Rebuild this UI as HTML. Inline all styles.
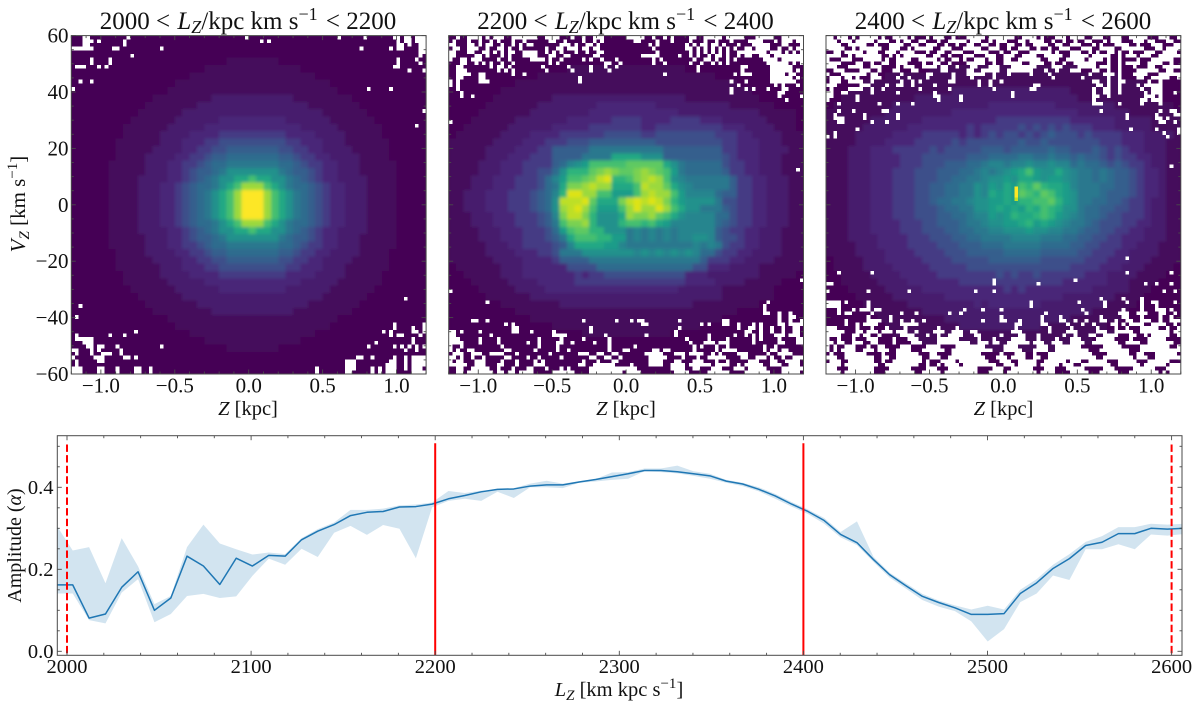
<!DOCTYPE html>
<html lang="en">
<head>
<meta charset="utf-8">
<title>Phase spiral panels and amplitude</title>
<style>
html,body{margin:0;padding:0;background:#fff;width:1200px;height:710px;overflow:hidden}
svg{display:block}
text{font-family:"Liberation Serif",serif;fill:#111}
</style>
</head>
<body>
<svg id="figure" xmlns="http://www.w3.org/2000/svg" width="1200" height="710" viewBox="0 0 1200 710">
  <rect width="1200" height="710" fill="#fff"/>
  <text x="248" y="29" text-anchor="middle" font-size="25">2000 &lt; <tspan font-style="italic" dx="1">L</tspan><tspan font-style="italic" dy="4" font-size="18">Z</tspan><tspan dy="-4">/kpc km s</tspan><tspan dy="-9" font-size="18">−1</tspan><tspan dy="9" dx="2"> &lt; 2200</tspan></text>
  <text x="625.5" y="29" text-anchor="middle" font-size="25">2200 &lt; <tspan font-style="italic" dx="1">L</tspan><tspan font-style="italic" dy="4" font-size="18">Z</tspan><tspan dy="-4">/kpc km s</tspan><tspan dy="-9" font-size="18">−1</tspan><tspan dy="9" dx="2"> &lt; 2400</tspan></text>
  <text x="1003" y="29" text-anchor="middle" font-size="25">2400 &lt; <tspan font-style="italic" dx="1">L</tspan><tspan font-style="italic" dy="4" font-size="18">Z</tspan><tspan dy="-4">/kpc km s</tspan><tspan dy="-9" font-size="18">−1</tspan><tspan dy="9" dx="2"> &lt; 2600</tspan></text>
  <text transform="translate(25,204) rotate(-90)" text-anchor="middle" font-size="21"><tspan font-style="italic">V</tspan><tspan font-style="italic" dy="4" font-size="15">Z</tspan><tspan dy="-4"> [km s</tspan><tspan dy="-8" font-size="15">−1</tspan><tspan dy="8">]</tspan></text>
  <text x="248" y="415" text-anchor="middle" font-size="20.5"><tspan font-style="italic">Z</tspan> [kpc]</text>
  <text x="626" y="415" text-anchor="middle" font-size="20.5"><tspan font-style="italic">Z</tspan> [kpc]</text>
  <text x="1003.5" y="415" text-anchor="middle" font-size="20.5"><tspan font-style="italic">Z</tspan> [kpc]</text>
  <text transform="translate(21,545.5) rotate(-90)" text-anchor="middle" font-size="20">Amplitude (<tspan font-style="italic">α</tspan>)</text>
  <text x="619" y="696" text-anchor="middle" font-size="20.5"><tspan font-style="italic">L</tspan><tspan font-style="italic" dy="4" font-size="15">Z</tspan><tspan dy="-4"> [km kpc s</tspan><tspan dy="-8" font-size="15">−1</tspan><tspan dy="8">]</tspan></text>
  <defs>
    <clipPath id="amp-clip"><rect x="57.3" y="435.7" width="1124.7" height="219.6"/></clipPath>
    <filter id="soften" x="-5%" y="-5%" width="110%" height="110%"><feGaussianBlur stdDeviation="1.6"/></filter>
  </defs>
</svg>
<script>
// ---- Amplitude chart data ----
const lzValues = [1994.2,2003.1,2012,2020.9,2029.7,2038.6,2047.5,2056.4,2065.2,2074.1,2083,2091.9,2100.7,2109.6,2118.5,2127.4,2136.2,2145.1,2154,2162.9,2171.7,2180.6,2189.5,
2198.3,2207.2,2216.1,2225,2233.8,2242.7,2251.6,2260.5,2269.3,2278.2,2287.1,2296,2304.8,2313.7,2322.6,2331.5,2340.3,2349.2,2358.1,2367,2375.8,2384.7,2393.6,2402.5,
2411.3,2420.2,2429.1,2438,2446.8,2455.7,2464.6,2473.5,2482.3,2491.2,2500.1,2509,2517.8,2526.7,2535.6,2544.5,2553.3,2562.2,2571.1,2580,2588.8,2597.7,2606.6];
const amplitudeValues = [.162,.162,.081,.091,.156,.194,.100,.130,.232,.208,.163,.227,.208,.234,.232,.272,.293,.309,.331,.339,.341,.352,.353,
.359,.372,.380,.389,.395,.396,.403,.406,.406,.413,.419,.426,.433,.441,.441,.438,.433,.428,.415,.408,.395,.379,.359,.341,
.319,.285,.265,.224,.187,.160,.134,.119,.106,.090,.090,.092,.141,.167,.202,.226,.258,.266,.287,.287,.300,.298,.300];
const amplitudeUpper = [.308,.246,.254,.166,.276,.207,.115,.135,.254,.309,.263,.249,.236,.241,.237,.276,.298,.314,.345,.345,.348,.356,.358,
.363,.391,.386,.392,.394,.398,.409,.416,.409,.415,.420,.436,.437,.446,.446,.453,.439,.433,.418,.411,.400,.384,.364,.346,
.325,.291,.317,.231,.192,.166,.140,.124,.112,.102,.111,.102,.150,.176,.211,.237,.267,.281,.303,.303,.311,.309,.311];
const amplitudeLower = [.141,.141,.076,.068,.143,.176,.071,.091,.135,.140,.130,.134,.184,.226,.211,.250,.230,.289,.306,.284,.308,.299,.227,
.351,.367,.372,.367,.389,.374,.400,.400,.398,.411,.414,.418,.421,.439,.437,.434,.428,.421,.411,.403,.390,.372,.353,.335,
.311,.278,.259,.218,.180,.153,.125,.109,.098,.073,.024,.054,.120,.141,.185,.174,.249,.249,.261,.249,.285,.282,.286];
const lzTickValues = [2000,2100,2200,2300,2400,2500,2600];
const lzTickLabels = ["2000","2100","2200","2300","2400","2500","2600"];
const ampTickValues = [0,0.2,0.4];
const ampTickLabels = ["0.0","0.2","0.4"];
const solidBoundaries = [2200,2400];
const dashedBoundaries = [2000,2600];

// ---- Heatmap tick data ----
const zTickValues = [-1,-0.5,0,0.5,1];
const zTickLabels = ["−1.0","−0.5","0.0","0.5","1.0"];
const vzTickValues = [60,40,20,0,-20,-40,-60];
const vzTickLabels = ["60","40","20","0","−20","−40","−60"];

// ---- Heatmap density: one row of base-21 levels per string, 48 columns, top to bottom ----
const panel1Density = ["0","0","0",
"000000000000000000000 1111 111",
"000000000000000000 1111111 111111",
"0000000000000000 111111111 11111111",
"00000000000000 11111111111 1111111111",
"0000000000000 111111111111 11111111111",
"00000000000 11111111 222222 22222 11111111",
"0000000000 1111111 22222222 2222222 1111111",
"000000000 111111 2222222222 222222222 111111",
"00000000 111111 222222 33333 3333 222222 111111",
"0000000 111111222223333333 33333322222111111",
"0000000 111112222333344444 44443333222211111",
"000000 1111112223334455555 555544333222111111",
"000000 1111122223344556666 666554433222211111",
"000000 1111222233445667777 777665443322221111",
"00000 11111222334456778888 8887765443322211111",
"00000 1111122233456678aaaa aaa8766543322211111",
"00000 111122223345678aacce ccaa876543322221111",
"00000 111122233456778acehh heca877654332221111",
"00000 11112223345678acehkk kheca87654332221111",
"00000 11112223345678acehkk kheca87654332221111",
"00000 11112223345678acehkk kheca87654332221111",
"00000 11112223345678acehkk kheca87654332221111",
"00000 111122233456778acehh heca877654332221111",
"00000 111122223345678aacce ccaa876543322221111",
"00000 1111122233456678aaaa aaa8766543322211111",
"00000 11111222334456778888 8887765443322211111",
"000000 1111222233445667777 777665443322221111",
"000000 1111122223344556666 666554433222211111",
"000000 1111112223334455555 555544333222111111",
"0000000 111112222333344444 44443333222211111",
"0000000 111111222223333333 33333322222111111",
"00000000 111111 222222 33333 3333 222222 111111",
"000000000 111111 2222222222 222222222 111111",
"0000000000 1111111 22222222 2222222 1111111",
"00000000000 11111111 222222 22222 11111111",
"0000000000000 111111111111 11111111111",
"00000000000000 11111111111 1111111111",
"0000000000000000 111111111 11111111",
"000000000000000000 1111111 111111",
"000000000000000000000 1111 111",
"0","0","0"];

const panel2Density = ["0","0","0","0",
"0000000000000000 1111111111111111",
"000000000000 111111111111111111111111",
"000000000 111111111111111111111111111111",
"0000000 1111111111111111111111111111111111",
"000000 11111111 222222222222222222 1111111111",
"00000 1111111 22222222 33333333 2222222222 111111",
"0000 1111111 22222222 333333333333 22222222222 11111",
"000 111111 2222222 333333 4444 3333 4444 333 222222 1111",
"00 111111 222222 33333 4444444 33 444444444 333 2222 111",
"0 111111 2222 3333 444444 55555 44 55555555 444 33 2222 111",
"111111 2222 333 444 555 666666666 555555555 44 333 222 111",
"11111 2222 333 44 66666 8888888888 66666666 44 333 2222 11",
"11111 222 333 444 6666 8888 cccc aaa 66666666 5 4 333 222 111",
"1111 222 333 4444 679 ab eeeee fffff ca8 77777 5 44 33 222 111",
"1111 222 333 44 55 7a ddd fghgffghgfe b8 77777 6 44 33 222 111",
"111 222 333 444 5 7 9 b eefg ij dde ghih e a 9 888888 6 44 33 222 11",
"111 222 333 444 5 7 8 c ggh i hh ccc e i hh f c a 9 88888 6 44 33 222 11",
"11 222 333 444 5 6 7 9 d jj hh ee bbb e hih h e b 9999 7 66 44 33 222 11",
"11 222 333 444 5 6 7 a i iij f ccc g ijij i g d b aaaa 8 55 44 33 222 11",
"11 222 333 444 5 6 7 a h ij h e bbb e hj hh j h e c aa 888 6 5 44 33 222 11",
"111 222 333 444 5 6 9 g ii g d aaa c hggh f e c a 9999 77 5 44 33 222 11",
"111 222 333 444 5 6 8 e gg h d aaa deede c b 99 9999 7 6 5 44 33 222 11",
"1111 222 333 44 4 5 7 b eff dd aaa 8989898 9 9999 6 5 44 33 222 111",
"1111 222 333 444 5 6 8 c eee dd bb 8989898 99aa9 6 55 4 33 222 111",
"11111 222 33 444 4 5 6 9 cccc bb 9 88888888 89898 5 44 33 222 111",
"11111 2222 333 44 5 888 aaa aaaa 9a9a9a9a9 77 5 44 33 2222 111",
"111111 2222 333 3 4 6666 88888 8888888888 6 444 33 222 2 1111",
"0 111111 222 333 333 5555 77777 77777777 55 3 33 222 2 111111",
"00 11111 222 3333 33 34344 55555555555 333 222 2222 11111",
"000 11111 2222 33333 444444444444444 3333 2222 11111",
"0000 11111 2222 333333333333333333 222222 1111111",
"00000 111111 22222222222222222222222222 1111111",
"0000000 11111111 222222222222222222 111111111",
"000000000 111111111111111111111111111111",
"00000000000 11111111111111111111111111",
"00000000000000 11111111111111111111",
"000000000000000000 111111111111",
"0","0","0","0","0"];

const panel3Density = ["0","0","0","0",
"00000000000000 11111111111111111111",
"00000000 11111111111111111111111111111111",
"00000 11111111111111111111111111111111111111",
"000 11111111111111 2222222222222222 111111111111",
"00 1111111111 2222222222222222222222 11111111111",
"0 11111111 2222222222222 333333333 22222222 11111111",
"11111111 222222222 33333333333333333 2222222 1111111",
"111111 2222222 3333333333 4444444444 333333 22222 1111",
"11111 222222 3333333 3434 4444 5454 5454 44 333 22222 1111",
"1111 22222 3333 4444 4343 4545 5454 5655 5454 444 333 2222 1",
"1111 2222 3333 4444 4545 5555 5565 5655 5555 544 433 3 222 11",
"111 222 333 4444 4545 5555 6665 6666 6766 5556 545 433 222 11",
"111 222 3333 444 5555 5566 6777 7887 7877 6766 545 443 322 11",
"111 222 3333 444 5556 6677 8998 99a9 9a99 7877 656 544 322 11",
"111 222 333 444 555 6667 7898 9abc ebaa ca98 878 766 54 332 11",
"111 222 333 444 555 6677 889a abac cbab ba98 878 766 54 332 11",
"111 222 333 444 556 6778 8a9b acbe dfdc cb98 887 766 54 332 11",
"111 222 333 444 556 6778 8a9c bcbf edfe cba8 887 666 54 332 11",
"111 222 333 444 556 7788 9aab bcbd deef dba8 877 665 44 322 11",
"111 222 333 444 555 6778 8aab cbcb dced caa8 776 655 44 322 11",
"111 222 333 444 555 6677 899b abdc cded ba98 776 554 44 322 11",
"111 222 333 344 455 6667 889a abbc dbcb a988 765 554 43 322 11",
"111 222 333 344 455 5667 7889 9aaa baa9 9887 665 544 33 222 11",
"111 222 233 334 445 5566 7788 8899 9988 8776 655 443 33 222 11",
"111 122 233 334 444 5556 6677 7888 8877 7766 554 443 32 221 11",
"111 122 223 333 444 4555 6666 6777 7766 6665 544 433 22 221 11",
"011 112 223 333 344 4455 5556 6666 6655 5555 444 333 22 211 11",
"011 112 222 333 334 4444 5555 5555 5555 5544 443 332 22 111 10",
"001 111 222 233 333 4444 4444 5454 4544 4444 333 222 21 111 00",
"001 111 122 223 333 3334 4444 4444 4444 4333 333 222 11 110 00",
"000 111 112 222 233 3333 3333 3434 3333 3333 322 222 11 100 00",
"000 011 111 222 222 2333 3333 3333 3333 3222 222 211 11 000 00",
"000 001 111 112 222 2222 2323 3333 3322 2222 222 111 10 000 00",
"000 000 111 111 122 2222 2222 2222 2222 2222 211 111 00 000 00",
"000 000 011 111 111 1222 2222 2222 2222 2211 111 110 00 000 00",
"000 000 001 111 111 1112 2222 2222 2211 1111 111 000 00 000 00",
"000000000 111111111111111111111111111111",
"000000000000 111111111111111111111111",
"000000000000000000 11111111111111",
"0","0","0"];

// ---- Single hot bins at native (96×92) resolution: [row, col, level] ----
const panel3HotBins = [[41,51,20],[42,51,20],[43,51,20],[44,51,18]];

// ---- Empty bins at native (96×92) resolution: [row, "columns"] ----
const panel1EmptyBins = [[0,"3-4 15 47 72 79 87-88 90-91 93-95"],[1,"3-4 5 7 14 51 53 88 90-91 93-95"],[2,"3-4 14 88-89 91 94-95"],[3,"0-2 3-5 11-12 24 78 86 88-89 94-95"],[4,"94-95"],[5,"16 94"],[6,"5 10 88 93"],[7,"5 10 88 94"],[8,"1-2 3 7 9 87-88"],[9,"91 95"],[12,"2 5"],[14,"0 80 86"],[20,"95"],[24,"93"],
[71,"90"],[73,"2"],[76,"1"],[78,"87 95"],[79,"87 92 95"],[80,"17 84 86 92-93 95"],[81,"1 10 14 86 88-89 94"],[82,"1-5 92"],[83,"3-5 82 92"],[84,"4-5 7-8 12 24 80 87 89 91 93 95"],[85,"0-1 5 7 13 90 93"],[86,"1 5 8-10 13"],[87,"0 6-7 8 14-15 17 77-78 81 87 90 92-95"],[88,"1 7 8 74-75 76 86-87 90 92-95"],[89,"1 74-75 76 85-87 90 92-95"],[90,"0-2 7-8 12 17-18 21 66 74-75 76 81 83 85-87 90 92-94"],[91,"0-2 7-8 12 17-18 21 66 74-75 81 83 85-87 92-95"]];

const panel2EmptyBins = [[0,"2 5-8 10 12-14 17-23 26-29 33 36 39-41 48-52 55 58 60 65-66 69-73 75-79 83-87 90-95"],
[1,"1 5 8 11 13 17 20 27-28 31 36 39 41 50-51 56 60 65 69 72 76 81-83 84 88 90-92 94-95"],
[2,"0-1 5-6 8 10-11 14 17 19 21-22 30-32 34 37-38 40 54 56 64 66 68-69 71-72 74 78 82-83 84-86 90-91 95"],
[3,"1-2 5-7 10 13-14 16 19 26 29-30 32-34 36-37 39-40 55 64-65 67 69 71 73 75 77 80-81 83-86 89 92 94-95"],
[4,"0-1 5-6 9-10 12 14 16-17 20-23 26 28 30 34 37 40-41 56 65 67 69 71 73 75 78-80 81-85 87-89 91 93 95"],
[5,"0-1 7-8 10 14 16 20-23 27-28 31-32 39-40 52-56 62 65 67 70 72-73 75 78 80-81 84-86 88-91 92-95"],
[6,"0 3-4 6-8 13 16 22-25 27 30 36 38 41 45 55 57 66 69-70 72 75 77 85-88 90-95"],
[7,"3-4 7 9 11 14 17 27 29 42-43 46 55 58 65 68 71 73 75 86-91 93 95"],
[8,"2-3 11 13-14 16 25 32 38 42 45 67 79-80 87-92"],[9,"2-4 13 15 17 26 33 38 43 67 79 87-92 94"],[10,"2-5 8-9 17 20 58 77 79-81 87-90 92-93"],[11,"2-3 8-9 35 87-92 94"],[12,"0 2 8-10 35 76 80 87-93"],[13,"0 2 78 88 90 94"],[14,"2 76 80 82 86 90-91"],[15,"3 76 89-90"],[16,"3 6 89 95"],[17,"91"],[23,"0"],[36,"94"],[66,"95"],[69,"0"],
[72,"10 86"],[73,"85"],[74,"85"],[75,"85-86 89 92"],[76,"89 92-93"],[77,"6-7 10 36 45 49 51-52 62 74-75 89 92 95"],[78,"15 17 52-53 68 70 74-75 78 82 84 89-90 92-95"],[79,"17-18 38 62 78 81-82 84 87 90 93-94"],[80,"0-1 3 8 17-18 22 28 38 61 80-81 84 87 90 93-94"],[81,"0-1 11 28-30 31 42 53 61 70 77 80 82 84 88-90 92-94"],[82,"0-2 8 13 24 30 36 43 64 70 75 82 84 89 94-95"],[83,"0-3 8 13 21 24 29-30 33 39 43 65 69-71 73-75 82 89-90 94-95"],[84,"0 3 14 24 29 43 50 66 68 72 75 85 88"],[85,"0 2 5-6 15-16 23 29 32 43 47-48 55-56 58-59 66 72 74-77 85 87-88 90-91"],[86,"1-3 6-8 11-14 18 27 35-37 40-41 44-45 53-57 61-63 65-68 71 73 78-80 86 89-92"],[87,"0-1 3 6 9 15-16 21 24 30 38-39 42-43 46 54-58 63 67 70-74 79-80 83-85 87 90 93-95"],[88,"0 2-3 7-9 14 18 23 25 36 40 44-45 54-57 61-62 66-68 72 75 81-83 87-88 91-94"],[89,"0-4 7-9 13-14 18 23-25 35-36 39-44 49 54-57 60-63 65-70 72-75 78 80-84 87-89 92-94"],[90,"2-3 6-10 13 17 21-22 26 30 32 38-47 48-50 60-63 66-67 71-73 77-79 81-85 90-95"],[91,"2-3 5-11 13-14 16-17 19-22 28-33 38-46 48-51 61-64 70-75 80-86 90-94"]];

const panel3EmptyBins = [[0,"0-1 3-5 7 9-13 15 18-21 23 27 29-31 34 38-42 44-50 53-56 58 62-64 66-69 72-74 77-79 82-86 90-92 95"],
[1,"0-2 4-6 8-12 14-16 19 21-22 25-26 30 33-37 39-41 44 46-48 52-53 55-58 61 64 67 70-71 75 77-79 83-85 87-88 92-93"],
[2,"0-3 6-10 13 17-20 23-24 27-29 32 35 38-39 42-43 46 49-50 53 56-59 62-63 66-68 72 74 78-81 84 88-90 94-95"],
[3,"0-4 7 9-14 17-19 22 24-28 31-33 37-41 44-46 49 52-54 57 60 63-65 69-71 74-77 80-85 89-90 92-95"],
[4,"2-3 5-9 11-13 16-18 20-23 27 30-31 34-36 40-43 47 50-51 55-60 62 66-68 71 73 76-77 79 82 86-88 91-94"],
[5,"0-3 6 8-14 17 19 21-26 29-30 33 37-39 43-45 48-50 53-56 59-63 66-70 72-76 79 81-83 85-87 90-95"],
[6,"0 4-6 10-14 16 19-22 25-29 31 34-35 37 40-42 44-45 48-49 52-57 60-62 65-69 71-74 76 79 84 88-93"],
[7,"0-3 8-9 12 15-16 19-21 26 29-30 33 38-42 45 48-52 55-58 61 64 67-72 76 79 81-84 87-90 93"],
[8,"0-2 6-9 12-14 19 21-23 26-29 31-32 35 39-40 44-46 50-56 61-63 68-72 74-76 79 83 87-88 91-95"],
[9,"2-4 9-11 14 18-19 23-24 31-32 38-39 42-46 49-55 59 62 66-68 72-73 76 79 84-89 92-93"],
[10,"0 4-10 12-13 20 27-28 34 38-42 45 49 55 60 71 75-77 79 83-86 90-95"],
[11,"1-3 5-6 8 12-14 19 22 27 34 39 45 61 69 76 79 84-85 88-92 95"],
[12,"1-3 6-9 12 20 23 25 33-34 41 44 47 72-73 76 79-80 87 90"],
[13,"0-2 9-11 16 19-20 23 29 41 44 56-57 73-74 76 79 84 86-90"],
[14,"1 6-9 12 15 25 33 45 55-56 72 75-76 79 85 88-90"],[15,"0-1 4-5 12 19 29 50 72 75-76 79 86 88-90 94"],[16,"0-1 8 29-30 36 50 72-73 76 86-88 90"],[17,"0 8 30 36 72 85-86 88-90"],[18,"3 14 19 23 72-74 79 85 90"],[20,"3 7 15-16 74 90 93-94"],[21,"2 10 19 81 89 94-95"],[22,"2-4 10 19 81 89-90 92"],[23,"3-4 12 16 90-91 94"],[25,"8 82 89 95"],[26,"2 91 95"],[27,"0 2 92"],[35,"93"],[60,"81"],
[64,"3 12 81 93"],[66,"45 67"],[67,"0-1 45 57 86 89 93"],[69,"0 11 22 40 45 91 94"],[71,"74 80 85"],[72,"0-3 5 11 55 68 75 81 85 88-89 94"],[73,"0-3 11 55 75 85 89"],[74,"3 7 9-11 13-14 37 42 47 69 80 85 89-91 93"],[75,"3 5-6 12 20 24 33 36 59 70 79-81 84-86 90-91 94"],[76,"11 17 47 58 63 74 80-81 85 90 93"],[77,"5 11-14 17 20 23 26 42 47-48 52 58 63-64 67 70 74-75 78 81-82 85-87 90 93-95"],[78,"5 8 10-13 20-24 51-52 58-59 65 69 72 77-78 80 82-85 88-91 94"],[79,"0-2 8 12 16 21 30 35 51 60 66 73 78 81 85-89 92 95"],[80,"0-4 8-9 11-13 15-17 19-21 24 29-31 34-36 39-40 50-52 60 65-67 73-75 78-82 85-92 94-95"],[81,"0-3 7-8 10-11 14 20-23 27 30 33-36 40-41 47 52-53 57 64 67 71-72 75-78 82-83 86 88-92 95"],[82,"0 3 7 11-13 18 22-24 30-35 41 45 50-53 57 62 66-68 73-77 82 87-91"],[83,"0-1 3-4 7-9 12-13 18 23-25 30-38 41-43 45-46 49-54 56-58 61-63 66-69 72-78 81-84 87-93"],[84,"0 2 5-7 11 14-15 20-22 27-30 35-42 48-51 57-59 62-68 75-79 85-92 95"],[85,"0 2 4-7 10-12 14-16 19-22 26-31 34-44 48-52 56-59 62-70 74-81 85-95"],[86,"1 5-10 15 19-24 28-29 34-41 47 51-53 56 60-71 76-81 84-85 89-94"],[87,"0-2 5-12 15-16 19-25 28-30 33-42 46-48 50-53 56-57 60-72 75-82 84-86 89-95"],[88,"1-3 6-12 15 18-25 27 31-34 36-43 47-49 52-56 59-64 66-68 71-75 79-83 87-92"],[89,"0-3 5-13 16-24 27 30 32-35 37-45 48-50 52-56 58-62 64-66 69-76 79-84 86-91 93-95"],[90,"0-2 6-12 17-22 27-29 33-40 45-47 50-55 59-61 65-69 75-77 83-88 92-95"],[91,"0-3 5-12 16-23 26-30 32-40 44-47 49-56 58-61 66-70 74-78 82-89 91 93-95"]];

// ---- Rendering ----
const SVG_NS = "http://www.w3.org/2000/svg";
const svg = document.getElementById("figure");
const viridis = ["#440154","#45085b","#471a6d","#482878","#443b84","#3d4f8a","#355f8d","#2f6c8e","#2a788e","#25858e","#21918c","#1e9c89","#22a884","#2fb47c","#44bf70","#5ec962","#7ad151","#9bd93c","#bddf26","#dde318","#fde725"];
const FRAME = "#4a4a4a";

function make(tag, attrs, parent){
  const el = document.createElementNS(SVG_NS, tag);
  for (const k in attrs) el.setAttribute(k, attrs[k]);
  (parent || svg).appendChild(el);
  return el;
}
function tick(parent, x1, y1, x2, y2){
  const t = make("line", {x1:x1, y1:y1, x2:x2, y2:y2, stroke:FRAME, "stroke-width":0.9}, parent);
  
  
}
function label(parent, txt, x, y, anchor, size){
  const t = make("text", {x:x, y:y, "text-anchor":anchor, "font-size":size}, parent);
  
  
  t.textContent = txt;
}

const panels = [
  {name:"panel-1", left:71.3,  density:panel1Density, empty:panel1EmptyBins, hot:[], yLabels:true},
  {name:"panel-2", left:448.7, density:panel2Density, empty:panel2EmptyBins, hot:[], yLabels:false},
  {name:"panel-3", left:826.0, density:panel3Density, empty:panel3EmptyBins, hot:panel3HotBins, yLabels:false}
];
const PW = 354.8, PT = 35.6, PH = 338.4, COARSE_C = 48, COARSE_R = 46, FINE_C = 96, FINE_R = 92;

function parseCols(spec){
  const cols = [];
  spec.trim().split(/\s+/).forEach(function(p){
    const parts = p.split("-").map(Number);
    const end = parts.length > 1 ? parts[1] : parts[0];
    for (let c = parts[0]; c <= end; c++) cols.push(c);
  });
  return cols;
}

panels.forEach(function(p, pi){
  const defs = svg.querySelector("defs");
  const cp = make("clipPath", {id:"clip-" + pi}, defs);
  make("rect", {x:p.left, y:PT, width:PW, height:PH}, cp);
  const outer = make("g", {"clip-path":"url(#clip-" + pi + ")"});
  
  
  const base = make("rect", {x:p.left, y:PT, width:PW, height:PH, fill:viridis[0]}, outer);
  
  
  const g = make("g", {filter:"url(#soften)", "shape-rendering":"crispEdges"}, outer);
  
  
  const top = make("g", {"shape-rendering":"crispEdges"}, outer);
  
  
  const zX = function(z){ return p.left + PW/2 + z * (PW/2.4); };
  const vY = function(v){ return PT + PH/2 - v * (PH/120); };
  const coarseW = PW / COARSE_C, coarseH = PH / COARSE_R, fineW = PW / FINE_C, fineH = PH / FINE_R;
  p.density.forEach(function(rowText, r){
    const row = rowText.replace(/\s/g, "").padEnd(COARSE_C, "0");
    for (let c = 0; c < COARSE_C; c++){
      const level = parseInt(row[c], 21);
      const cell = make("rect", {x:(p.left + c*coarseW).toFixed(2), y:(PT + r*coarseH).toFixed(2), width:(coarseW+0.4).toFixed(2), height:(coarseH+0.4).toFixed(2), fill:viridis[level]}, g);
      
      
    }
  });
  p.hot.forEach(function(b){
    const cell = make("rect", {x:(p.left + b[1]*fineW).toFixed(2), y:(PT + b[0]*fineH).toFixed(2), width:fineW.toFixed(2), height:fineH.toFixed(2), fill:viridis[b[2]]}, top);
    
    
  });
  p.empty.forEach(function(entry){
    parseCols(entry[1]).forEach(function(c){
      const cell = make("rect", {x:(p.left + c*fineW).toFixed(2), y:(PT + entry[0]*fineH).toFixed(2), width:fineW.toFixed(2), height:fineH.toFixed(2), fill:"#fff"}, top);
      
      
    });
  });
  const ax = make("g", {});
  
  
  const frame = make("rect", {x:p.left, y:PT, width:PW, height:PH, fill:"none", stroke:FRAME, "stroke-width":1}, ax);
  
  
  for (let i = -12; i <= 12; i++){
    const x = zX(i/10), len = (i % 5 === 0) ? 4.5 : 2.5;
    tick(ax, x, PT+PH, x, PT+PH-len);
    tick(ax, x, PT, x, PT+len);
  }
  for (let i = -12; i <= 12; i++){
    const y = vY(i*5), len = (i % 4 === 0) ? 4.5 : 2.5;
    tick(ax, p.left, y, p.left+len, y);
    tick(ax, p.left+PW, y, p.left+PW-len, y);
  }
  zTickValues.forEach(function(z, i){ label(ax, zTickLabels[i], zX(z), 392.5, "middle", 21); });
  if (p.yLabels) vzTickValues.forEach(function(v, i){ label(ax, vzTickLabels[i], 68.5, vY(v)+7, "end", 21); });
});

// Amplitude chart
const AL = 57.3, AR = 1182, AT = 435.7, AB = 655.3;
function xLz(L){ return 67 + (L - 2000) * 1.841; }
function yAmp(v){ return 651.3 - v * 410; }
const plot = make("g", {"clip-path":"url(#amp-clip)"});


let bandPts = [];
lzValues.forEach(function(L, i){ bandPts.push(xLz(L).toFixed(2) + "," + yAmp(amplitudeUpper[i]).toFixed(2)); });
for (let i = lzValues.length - 1; i >= 0; i--) bandPts.push(xLz(lzValues[i]).toFixed(2) + "," + yAmp(amplitudeLower[i]).toFixed(2));
const band = make("polygon", {points:bandPts.join(" "), fill:"#1f77b4", "fill-opacity":0.2}, plot);


const linePts = lzValues.map(function(L, i){ return xLz(L).toFixed(2) + "," + yAmp(amplitudeValues[i]).toFixed(2); }).join(" ");
const ampLine = make("polyline", {points:linePts, fill:"none", stroke:"#1f77b4", "stroke-width":1.5, "stroke-linejoin":"round"}, plot);


solidBoundaries.forEach(function(L){
  const l = make("line", {x1:xLz(L), x2:xLz(L), y1:443.3, y2:AB, stroke:"#ff0000", "stroke-width":2}, plot);
  
  
});
dashedBoundaries.forEach(function(L){
  const l = make("line", {x1:xLz(L), x2:xLz(L), y1:444.5, y2:AB, stroke:"#ff0000", "stroke-width":2, "stroke-dasharray":"7.4 3.2"}, plot);
  
  
});
const ampAxes = make("g", {});


const ampFrame = make("rect", {x:AL, y:AT, width:AR-AL, height:AB-AT, fill:"none", stroke:FRAME, "stroke-width":1}, ampAxes);


for (let L = 2000; L <= 2600; L += 20){
  const x = xLz(L), len = (L % 100 === 0) ? 4.5 : 2.5;
  tick(ampAxes, x, AB, x, AB-len);
  tick(ampAxes, x, AT, x, AT+len);
}
for (let k = 0; k <= 10; k++){
  const y = yAmp(k*0.05), len = (k % 4 === 0) ? 4.5 : 2.5;
  tick(ampAxes, AL, y, AL+len, y);
  tick(ampAxes, AR, y, AR-len, y);
}
lzTickValues.forEach(function(L, i){ label(ampAxes, lzTickLabels[i], xLz(L), 673, "middle", 20.5); });
ampTickValues.forEach(function(v, i){ label(ampAxes, ampTickLabels[i], 53.5, yAmp(v)+6.8, "end", 20.5); });
</script>
</body>
</html>
